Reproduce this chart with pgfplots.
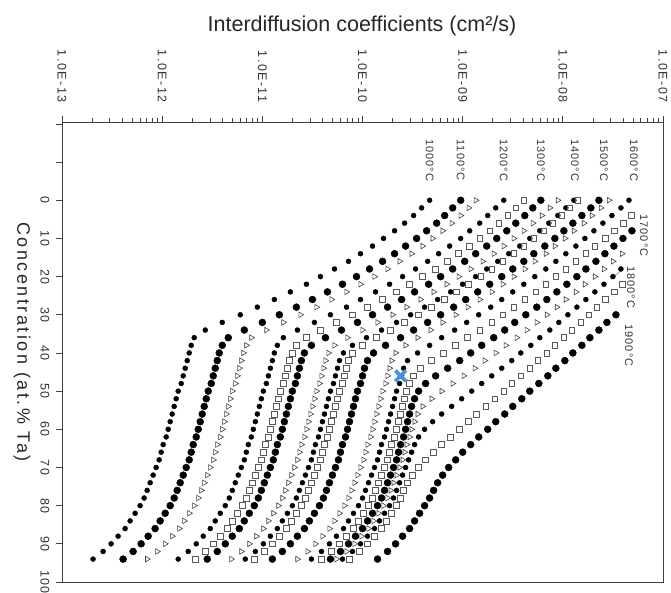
\documentclass[border=0pt]{standalone}
\usepackage{pgfplots}
\pgfplotsset{compat=1.18}
\usepackage{fontspec}
\setmainfont{Liberation Sans}
\definecolor{xblue}{RGB}{74,144,217}
\pgfplotsset{
 sdot/.style={only marks, mark=*, mark size=2.5pt, black},
 bdot/.style={only marks, mark=*, mark size=3.5pt, black},
 tri/.style={only marks, mark=triangle, mark size=3.2pt, black!75, mark options={rotate=-90, draw=black!75, fill=white, line width=0.6pt}},
 sq/.style={only marks, mark=square, mark size=2.9pt, black!65, mark options={draw=black!65, fill=white, line width=0.6pt}},
}
\begin{document}
\begin{tikzpicture}
\path[use as bounding box] (0pt,0pt) rectangle (671pt,593pt);
\begin{axis}[
 at={(362.5pt,241pt)}, anchor=center,
 width=601pt, height=460pt, scale only axis,
 xmin=-13, xmax=-7, ymin=-20.5, ymax=100,
 y dir=reverse,
 axis line style={black!75, line width=0.9pt},
 tick align=outside,
 major tick length=6pt, minor tick length=3.5pt,
 tick style={black!75, line width=0.7pt},
 xtick pos=right, xticklabel pos=right,
 ytick pos=left, yticklabel pos=left,
 xtick={-13,-12,-11,-10,-9,-8,-7},
 xticklabels={1.0E-13,1.0E-12,1.0E-11,1.0E-10,1.0E-09,1.0E-08,1.0E-07},
 minor xtick={-12.699,-12.523,-12.398,-12.301,-12.222,-12.155,-12.097,-12.046,
 -11.699,-11.523,-11.398,-11.301,-11.222,-11.155,-11.097,-11.046,
 -10.699,-10.523,-10.398,-10.301,-10.222,-10.155,-10.097,-10.046,
 -9.699,-9.523,-9.398,-9.301,-9.222,-9.155,-9.097,-9.046,
 -8.699,-8.523,-8.398,-8.301,-8.222,-8.155,-8.097,-8.046,
 -7.699,-7.523,-7.398,-7.301,-7.222,-7.155,-7.097,-7.046},
 ytick={-20,-10,0,10,20,30,40,50,60,70,80,90,100},
 yticklabels={{},{},0,10,20,30,40,50,60,70,80,90,100},
 xticklabel style={rotate=-90, anchor=east, text=black!80, font=\fontsize{12.5}{12.5}\selectfont\addfontfeature{LetterSpace=12}},
 xticklabel shift=10pt,
 yticklabel style={rotate=-90, anchor=north, text=black!80, font=\fontsize{12.5}{12.5}\selectfont\addfontfeature{LetterSpace=10}},
 yticklabel shift=3pt,
 clip=true,
]
% 1000 C
\addplot[sdot] coordinates {(-9.33,0)(-9.41,2)(-9.49,4)(-9.58,6)(-9.68,8)(-9.79,10)(-9.90,12)(-10.02,14)(-10.14,16)(-10.28,18)(-10.42,20)(-10.56,22)(-10.72,24)(-10.88,26)(-11.05,28)(-11.22,30)(-11.40,32)(-11.57,34)(-11.68,36)(-11.71,38)(-11.73,40)(-11.75,42)(-11.77,44)(-11.79,46)(-11.81,48)(-11.84,50)(-11.86,52)(-11.88,54)(-11.90,56)(-11.92,58)(-11.94,60)(-11.96,62)(-11.99,64)(-12.01,66)(-12.03,68)(-12.06,70)(-12.09,72)(-12.12,74)(-12.15,76)(-12.18,78)(-12.22,80)(-12.27,82)(-12.32,84)(-12.37,86)(-12.44,88)(-12.51,90)(-12.59,92)(-12.69,94)};
% 1100 C
\addplot[bdot] coordinates {(-9.02,0)(-9.10,2)(-9.18,4)(-9.26,6)(-9.36,8)(-9.46,10)(-9.57,12)(-9.68,14)(-9.80,16)(-9.93,18)(-10.06,20)(-10.20,22)(-10.35,24)(-10.50,26)(-10.66,28)(-10.83,30)(-11.00,32)(-11.18,34)(-11.34,36)(-11.40,38)(-11.43,40)(-11.45,42)(-11.47,44)(-11.49,46)(-11.51,48)(-11.54,50)(-11.56,52)(-11.58,54)(-11.60,56)(-11.62,58)(-11.64,60)(-11.66,62)(-11.69,64)(-11.71,66)(-11.73,68)(-11.76,70)(-11.79,72)(-11.82,74)(-11.85,76)(-11.88,78)(-11.92,80)(-11.97,82)(-12.02,84)(-12.07,86)(-12.14,88)(-12.21,90)(-12.29,92)(-12.39,94)};
% 1150 C
\addplot[tri] coordinates {(-8.87,0)(-8.94,2)(-9.02,4)(-9.11,6)(-9.20,8)(-9.30,10)(-9.40,12)(-9.51,14)(-9.63,16)(-9.75,18)(-9.88,20)(-10.02,22)(-10.16,24)(-10.31,26)(-10.46,28)(-10.62,30)(-10.79,32)(-10.96,34)(-11.11,36)(-11.16,38)(-11.19,40)(-11.21,42)(-11.23,44)(-11.25,46)(-11.27,48)(-11.30,50)(-11.32,52)(-11.34,54)(-11.36,56)(-11.38,58)(-11.40,60)(-11.42,62)(-11.45,64)(-11.47,66)(-11.49,68)(-11.52,70)(-11.55,72)(-11.58,74)(-11.61,76)(-11.64,78)(-11.68,80)(-11.73,82)(-11.78,84)(-11.83,86)(-11.90,88)(-11.97,90)(-12.05,92)(-12.15,94)};
% 1200 C
\addplot[sdot] coordinates {(-8.59,0)(-8.67,2)(-8.75,4)(-8.83,6)(-8.93,8)(-9.02,10)(-9.13,12)(-9.24,14)(-9.35,16)(-9.47,18)(-9.60,20)(-9.73,22)(-9.87,24)(-10.02,26)(-10.16,28)(-10.32,30)(-10.48,32)(-10.65,34)(-10.79,36)(-10.85,38)(-10.88,40)(-10.90,42)(-10.92,44)(-10.94,46)(-10.96,48)(-10.99,50)(-11.01,52)(-11.03,54)(-11.05,56)(-11.07,58)(-11.09,60)(-11.11,62)(-11.14,64)(-11.16,66)(-11.18,68)(-11.21,70)(-11.24,72)(-11.27,74)(-11.30,76)(-11.33,78)(-11.37,80)(-11.42,82)(-11.47,84)(-11.52,86)(-11.59,88)(-11.66,90)(-11.74,92)(-11.84,94)};
% 1250 C
\addplot[sq] coordinates {(-8.39,0)(-8.47,2)(-8.55,4)(-8.64,6)(-8.73,8)(-8.83,10)(-8.93,12)(-9.04,14)(-9.15,16)(-9.27,18)(-9.40,20)(-9.53,22)(-9.66,24)(-9.80,26)(-9.95,28)(-10.10,30)(-10.26,32)(-10.42,34)(-10.56,36)(-10.66,38)(-10.70,40)(-10.73,42)(-10.75,44)(-10.77,46)(-10.79,48)(-10.82,50)(-10.84,52)(-10.86,54)(-10.88,56)(-10.90,58)(-10.92,60)(-10.94,62)(-10.97,64)(-10.99,66)(-11.01,68)(-11.04,70)(-11.07,72)(-11.10,74)(-11.13,76)(-11.16,78)(-11.20,80)(-11.25,82)(-11.30,84)(-11.35,86)(-11.42,88)(-11.49,90)(-11.57,92)(-11.67,94)};
% 1300 C
\addplot[bdot] coordinates {(-8.22,0)(-8.30,2)(-8.38,4)(-8.47,6)(-8.56,8)(-8.66,10)(-8.76,12)(-8.87,14)(-8.98,16)(-9.10,18)(-9.22,20)(-9.34,22)(-9.48,24)(-9.61,26)(-9.75,28)(-9.90,30)(-10.05,32)(-10.21,34)(-10.37,36)(-10.51,38)(-10.58,40)(-10.61,42)(-10.63,44)(-10.65,46)(-10.67,48)(-10.70,50)(-10.72,52)(-10.74,54)(-10.76,56)(-10.78,58)(-10.80,60)(-10.82,62)(-10.85,64)(-10.87,66)(-10.89,68)(-10.92,70)(-10.95,72)(-10.98,74)(-11.01,76)(-11.04,78)(-11.08,80)(-11.13,82)(-11.18,84)(-11.23,86)(-11.30,88)(-11.37,90)(-11.45,92)(-11.55,94)};
% 1350 C
\addplot[tri] coordinates {(-8.05,0)(-8.13,2)(-8.21,4)(-8.30,6)(-8.39,8)(-8.49,10)(-8.59,12)(-8.69,14)(-8.80,16)(-8.92,18)(-9.04,20)(-9.16,22)(-9.29,24)(-9.42,26)(-9.56,28)(-9.70,30)(-9.85,32)(-10.00,34)(-10.15,36)(-10.28,38)(-10.34,40)(-10.37,42)(-10.39,44)(-10.41,46)(-10.43,48)(-10.46,50)(-10.48,52)(-10.50,54)(-10.52,56)(-10.54,58)(-10.56,60)(-10.58,62)(-10.61,64)(-10.63,66)(-10.65,68)(-10.68,70)(-10.71,72)(-10.74,74)(-10.77,76)(-10.80,78)(-10.84,80)(-10.89,82)(-10.94,84)(-10.99,86)(-11.06,88)(-11.13,90)(-11.21,92)(-11.31,94)};
% 1400 C
\addplot[sdot] coordinates {(-7.89,0)(-7.97,2)(-8.05,4)(-8.14,6)(-8.23,8)(-8.33,10)(-8.43,12)(-8.54,14)(-8.65,16)(-8.76,18)(-8.87,20)(-9.00,22)(-9.12,24)(-9.25,26)(-9.38,28)(-9.52,30)(-9.66,32)(-9.81,34)(-9.96,36)(-10.10,38)(-10.19,40)(-10.23,42)(-10.25,44)(-10.27,46)(-10.29,48)(-10.32,50)(-10.34,52)(-10.36,54)(-10.38,56)(-10.40,58)(-10.42,60)(-10.44,62)(-10.47,64)(-10.49,66)(-10.51,68)(-10.54,70)(-10.57,72)(-10.60,74)(-10.63,76)(-10.66,78)(-10.70,80)(-10.75,82)(-10.80,84)(-10.85,86)(-10.92,88)(-10.99,90)(-11.07,92)(-11.17,94)};
% 1450 C
\addplot[sq] coordinates {(-7.85,0)(-7.93,2)(-8.01,4)(-8.10,6)(-8.19,8)(-8.29,10)(-8.39,12)(-8.49,14)(-8.60,16)(-8.71,18)(-8.82,20)(-8.94,22)(-9.06,24)(-9.18,26)(-9.31,28)(-9.44,30)(-9.58,32)(-9.72,34)(-9.86,36)(-10.00,38)(-10.10,40)(-10.14,42)(-10.16,44)(-10.18,46)(-10.20,48)(-10.23,50)(-10.25,52)(-10.27,54)(-10.29,56)(-10.31,58)(-10.33,60)(-10.35,62)(-10.38,64)(-10.40,66)(-10.42,68)(-10.45,70)(-10.48,72)(-10.51,74)(-10.54,76)(-10.57,78)(-10.61,80)(-10.66,82)(-10.71,84)(-10.76,86)(-10.83,88)(-10.90,90)(-10.98,92)(-11.08,94)};
% 1500 C
\addplot[bdot] coordinates {(-7.64,0)(-7.72,2)(-7.81,4)(-7.90,6)(-7.99,8)(-8.08,10)(-8.18,12)(-8.29,14)(-8.39,16)(-8.50,18)(-8.61,20)(-8.73,22)(-8.85,24)(-8.97,26)(-9.09,28)(-9.22,30)(-9.35,32)(-9.49,34)(-9.62,36)(-9.77,38)(-9.89,40)(-9.95,42)(-9.98,44)(-10.00,46)(-10.02,48)(-10.05,50)(-10.07,52)(-10.09,54)(-10.11,56)(-10.13,58)(-10.15,60)(-10.17,62)(-10.20,64)(-10.22,66)(-10.24,68)(-10.27,70)(-10.30,72)(-10.33,74)(-10.36,76)(-10.39,78)(-10.43,80)(-10.48,82)(-10.53,84)(-10.58,86)(-10.65,88)(-10.72,90)(-10.80,92)(-10.90,94)};
% 1550 C
\addplot[tri] coordinates {(-7.54,0)(-7.62,2)(-7.71,4)(-7.79,6)(-7.89,8)(-7.98,10)(-8.08,12)(-8.17,14)(-8.28,16)(-8.38,18)(-8.49,20)(-8.60,22)(-8.71,24)(-8.83,26)(-8.95,28)(-9.07,30)(-9.20,32)(-9.32,34)(-9.45,36)(-9.57,38)(-9.67,40)(-9.71,42)(-9.73,44)(-9.75,46)(-9.77,48)(-9.80,50)(-9.82,52)(-9.84,54)(-9.86,56)(-9.88,58)(-9.90,60)(-9.92,62)(-9.95,64)(-9.97,66)(-9.99,68)(-10.02,70)(-10.05,72)(-10.08,74)(-10.11,76)(-10.14,78)(-10.18,80)(-10.23,82)(-10.28,84)(-10.33,86)(-10.40,88)(-10.47,90)(-10.55,92)(-10.65,94)};
% 1600 C
\addplot[sdot] coordinates {(-7.34,0)(-7.42,2)(-7.51,4)(-7.60,6)(-7.69,8)(-7.78,10)(-7.87,12)(-7.97,14)(-8.07,16)(-8.17,18)(-8.28,20)(-8.39,22)(-8.50,24)(-8.61,26)(-8.72,28)(-8.84,30)(-8.96,32)(-9.08,34)(-9.21,36)(-9.33,38)(-9.45,40)(-9.55,42)(-9.59,44)(-9.61,46)(-9.63,48)(-9.66,50)(-9.68,52)(-9.70,54)(-9.72,56)(-9.74,58)(-9.76,60)(-9.78,62)(-9.81,64)(-9.83,66)(-9.85,68)(-9.88,70)(-9.91,72)(-9.94,74)(-9.97,76)(-10.00,78)(-10.04,80)(-10.09,82)(-10.14,84)(-10.19,86)(-10.26,88)(-10.33,90)(-10.41,92)(-10.51,94)};
% 1650 C
\addplot[sq] coordinates {(-7.32,4)(-7.40,6)(-7.49,8)(-7.58,10)(-7.68,12)(-7.77,14)(-7.87,16)(-7.97,18)(-8.07,20)(-8.17,22)(-8.27,24)(-8.38,26)(-8.49,28)(-8.60,30)(-8.71,32)(-8.83,34)(-8.95,36)(-9.07,38)(-9.19,40)(-9.31,42)(-9.42,44)(-9.49,46)(-9.53,48)(-9.56,50)(-9.58,52)(-9.60,54)(-9.62,56)(-9.64,58)(-9.66,60)(-9.68,62)(-9.71,64)(-9.73,66)(-9.75,68)(-9.78,70)(-9.81,72)(-9.84,74)(-9.87,76)(-9.90,78)(-9.94,80)(-9.99,82)(-10.04,84)(-10.09,86)(-10.16,88)(-10.23,90)(-10.31,92)(-10.41,94)};
% 1700 C
\addplot[bdot] coordinates {(-7.31,8)(-7.40,10)(-7.49,12)(-7.58,14)(-7.67,16)(-7.77,18)(-7.86,20)(-7.96,22)(-8.06,24)(-8.16,26)(-8.26,28)(-8.37,30)(-8.48,32)(-8.58,34)(-8.69,36)(-8.81,38)(-8.92,40)(-9.03,42)(-9.15,44)(-9.27,46)(-9.37,48)(-9.44,50)(-9.48,52)(-9.51,54)(-9.53,56)(-9.55,58)(-9.57,60)(-9.59,62)(-9.62,64)(-9.64,66)(-9.66,68)(-9.69,70)(-9.72,72)(-9.75,74)(-9.78,76)(-9.81,78)(-9.85,80)(-9.90,82)(-9.95,84)(-10.00,86)(-10.07,88)(-10.14,90)(-10.22,92)(-10.32,94)};
% 1750 C
\addplot[tri] coordinates {(-7.41,14)(-7.50,16)(-7.59,18)(-7.68,20)(-7.78,22)(-7.87,24)(-7.97,26)(-8.06,28)(-8.16,30)(-8.26,32)(-8.36,34)(-8.46,36)(-8.57,38)(-8.67,40)(-8.78,42)(-8.88,44)(-8.99,46)(-9.10,48)(-9.21,50)(-9.31,52)(-9.40,54)(-9.45,56)(-9.48,58)(-9.51,60)(-9.53,62)(-9.56,64)(-9.58,66)(-9.60,68)(-9.63,70)(-9.66,72)(-9.69,74)(-9.72,76)(-9.75,78)(-9.79,80)(-9.84,82)(-9.89,84)(-9.94,86)(-10.01,88)(-10.08,90)(-10.16,92)(-10.26,94)};
% 1800 C
\addplot[sdot] coordinates {(-7.42,18)(-7.50,20)(-7.59,22)(-7.68,24)(-7.77,26)(-7.86,28)(-7.95,30)(-8.04,32)(-8.13,34)(-8.23,36)(-8.32,38)(-8.42,40)(-8.51,42)(-8.61,44)(-8.71,46)(-8.81,48)(-8.91,50)(-9.01,52)(-9.11,54)(-9.21,56)(-9.30,58)(-9.38,60)(-9.44,62)(-9.48,64)(-9.51,66)(-9.54,68)(-9.57,70)(-9.60,72)(-9.63,74)(-9.66,76)(-9.69,78)(-9.73,80)(-9.78,82)(-9.83,84)(-9.88,86)(-9.95,88)(-10.02,90)(-10.10,92)(-10.20,94)};
% 1850 C
\addplot[sq] coordinates {(-7.41,22)(-7.49,24)(-7.58,26)(-7.66,28)(-7.74,30)(-7.82,32)(-7.91,34)(-7.99,36)(-8.08,38)(-8.16,40)(-8.25,42)(-8.33,44)(-8.42,46)(-8.51,48)(-8.59,50)(-8.68,52)(-8.77,54)(-8.86,56)(-8.94,58)(-9.03,60)(-9.12,62)(-9.21,64)(-9.29,66)(-9.37,68)(-9.44,70)(-9.50,72)(-9.55,74)(-9.59,76)(-9.62,78)(-9.66,80)(-9.71,82)(-9.76,84)(-9.81,86)(-9.88,88)(-9.95,90)(-10.03,92)(-10.13,94)};
% 1900 C
\addplot[bdot] coordinates {(-7.47,30)(-7.56,32)(-7.64,34)(-7.73,36)(-7.81,38)(-7.90,40)(-7.98,42)(-8.07,44)(-8.15,46)(-8.24,48)(-8.33,50)(-8.41,52)(-8.50,54)(-8.58,56)(-8.67,58)(-8.75,60)(-8.84,62)(-8.92,64)(-9.00,66)(-9.07,68)(-9.14,70)(-9.20,72)(-9.25,74)(-9.29,76)(-9.33,78)(-9.38,80)(-9.43,82)(-9.48,84)(-9.53,86)(-9.60,88)(-9.67,90)(-9.75,92)(-9.85,94)};
% marked point
\addplot[only marks, mark=x, mark size=7.5pt, line width=3.6pt, xblue] coordinates {(-9.62,46)};
\draw[black!40, line width=0.8pt] (axis cs:-7.52,20.7) -- (axis cs:-7.42,18.4);
% temperature labels
\begin{scope}[every node/.style={rotate=-90, text=black!80, font=\fontsize{11}{11}\selectfont\addfontfeature{LetterSpace=10}}]
\node at (axis cs:-9.33,-10.5) {1000°C};
\node at (axis cs:-9.02,-10.5) {1100°C};
\node at (axis cs:-8.59,-10.5) {1200°C};
\node at (axis cs:-8.22,-10.5) {1300°C};
\node at (axis cs:-7.88,-10.5) {1400°C};
\node at (axis cs:-7.59,-10.5) {1500°C};
\node at (axis cs:-7.29,-10.5) {1600°C};
\node at (axis cs:-7.19,9.2) {1700°C};
\node at (axis cs:-7.32,22.8) {1800°C};
\node at (axis cs:-7.34,38) {1900°C};
\end{scope}
\end{axis}
\node[font=\fontsize{21.5}{21.5}\selectfont, text=black!85] at (362pt,567pt) {Interdiffusion coefficients (cm²/s)};
\node[rotate=-90, font=\fontsize{18}{18}\selectfont\addfontfeature{LetterSpace=14}, text=black!85] at (22pt,251pt) {Concentration (at.\% Ta)};
\end{tikzpicture}
\end{document}
